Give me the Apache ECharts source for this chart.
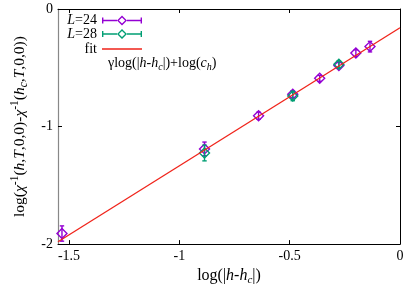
<!DOCTYPE html>
<html>
<head>
<meta charset="utf-8">
<script src="https://cdn.jsdelivr.net/npm/echarts@6/dist/echarts.min.js"></script>
<style>html,body{margin:0;padding:0;background:#fff}#c{width:415px;height:291px}</style>
</head>
<body>
<div id="c"></div>
<script>
// ---- data ----
const l24X = [-1.532, -0.886, -0.641, -0.486, -0.364, -0.277, -0.200, -0.136];
const l24Y = [-1.910, -1.190, -0.908, -0.725, -0.590, -0.480, -0.375, -0.320];
const l24E = [0.065, 0.058, 0.030, 0.030, 0.025, 0.025, 0.028, 0.045];
const l28X = [-0.886, -0.486, -0.277];
const l28Y = [-1.225, -0.740, -0.470];
const l28E = [0.067, 0.040, 0.030];
const fitX = [-1.55, 0];
const fitY = [-1.98, -0.16];
const xTicks = [-1.5, -1, -0.5, 0];
const yTicks = [-2, -1, 0];

const FONT = 'Liberation Serif';
const PURPLE = '#9400d3', GREEN = '#009e73', RED = '#f0231a';

function errRender(params, api) {
  const x = api.value(0), y = api.value(1), e = api.value(2);
  const t = api.coord([x, y + e]), b = api.coord([x, y - e]), c = api.coord([x, y]);
  const color = api.visual('color');
  const cw = 2.2, r = 5;
  const st = {stroke: color, lineWidth: 1.4, fill: 'none'};
  return {type: 'group', children: [
    {type: 'line', shape: {x1: t[0], y1: t[1], x2: b[0], y2: b[1]}, style: st},
    {type: 'line', shape: {x1: t[0] - cw, y1: t[1], x2: t[0] + cw, y2: t[1]}, style: st},
    {type: 'line', shape: {x1: b[0] - cw, y1: b[1], x2: b[0] + cw, y2: b[1]}, style: st},
    {type: 'polygon', shape: {points: [[c[0] - r, c[1]], [c[0], c[1] - r], [c[0] + r, c[1]], [c[0], c[1] + r]]}, style: st}
  ]};
}

const errIcon = 'path://M0 2h1.4v6h-1.4Z M1.4 4.3h13.6v1.4h-13.6Z M15 5L20 0L25 5L20 10Z M16.9 5L20 8.1L23.1 5L20 1.9Z M25 4.3h13.6v1.4h-13.6Z M38.6 2h1.4v6h-1.4Z';
const lineIcon = 'path://M0 0h0.01v0.01h-0.01Z M0 4.3h40v1.4h-40Z M39.99 9.99h0.01v0.01h-0.01Z';

const txt = {fontFamily: FONT, fontSize: 14, color: '#000', fontWeight: 'normal'};
function mkRich(fs, ss, lh) {
  return {
    n: {fontFamily: FONT, fontSize: fs, fontWeight: 'normal', color: '#000', lineHeight: lh, verticalAlign: 'middle'},
    i: {fontFamily: FONT, fontSize: fs, fontWeight: 'normal', fontStyle: 'italic', color: '#000', lineHeight: lh, verticalAlign: 'middle'},
    sup: {fontFamily: FONT, fontSize: ss, fontWeight: 'normal', color: '#000', lineHeight: lh, verticalAlign: 'top'},
    sub: {fontFamily: FONT, fontSize: ss, fontWeight: 'normal', fontStyle: 'italic', color: '#000', lineHeight: lh, verticalAlign: 'bottom'}
  };
}
const richY = mkRich(15.5, 11.5, 21);
const richX = mkRich(16, 11, 20);
const richS = mkRich(14, 10, 18);

function legend(name, fmt, top, icon) {
  return {
    data: [{name: name, icon: icon}], right: 273, top: top, orient: 'vertical', align: 'right',
    itemWidth: 40, itemHeight: 10, padding: 0, selectedMode: false,
    formatter: fmt, textStyle: Object.assign({}, txt, {rich: richS})
  };
}

const chart = echarts.init(document.getElementById('c'), null, {renderer: 'canvas'});
chart.setOption({
  animation: false,
  backgroundColor: '#fff',
  grid: {left: 58, right: 15, top: 9, bottom: 41},
  title: {
    text: '{n|γlog(|}{i|h}{n|-}{i|h}{sub|c}{n||)+log(}{i|c}{sub|h}{n|)}',
    left: 108, top: 54, padding: 0,
    textStyle: Object.assign({}, txt, {rich: richS})
  },
  legend: [
    legend('L=24', '{i|L}{n|=24}', 13.5, errIcon),
    legend('L=28', '{i|L}{n|=28}', 27, errIcon),
    legend('fit', '{n|fit}', 42, lineIcon)
  ],
  xAxis: [{
    type: 'value', min: -1.55, max: 0, position: 'bottom',
    name: '{n|log(|}{i|h}{n|-}{i|h}{sub|c}{n||)}', nameLocation: 'middle', nameGap: 21,
    nameTextStyle: {rich: richX},
    axisLine: {onZero: false, lineStyle: {color: '#000', width: 1}},
    axisTick: {inside: true, length: 4, customValues: xTicks, lineStyle: {color: '#000'}},
    axisLabel: {customValues: xTicks, fontFamily: FONT, fontSize: 14, color: '#000', margin: 5},
    splitLine: {show: false}
  }, {
    type: 'value', min: -1.55, max: 0, position: 'top',
    axisLine: {onZero: false, lineStyle: {color: '#000', width: 1}},
    axisTick: {inside: true, length: 4, customValues: xTicks, lineStyle: {color: '#000'}},
    axisLabel: {show: false}, splitLine: {show: false}
  }],
  yAxis: [{
    type: 'value', min: -2, max: 0, interval: 1, position: 'left',
    name: '{n|log(}{i|χ}{sup|-1}{n|(}{i|h}{n|,}{i|T}{n|,0,0)-}{i|χ}{sup|-1}{n|(}{i|h}{sub|c}{n|,}{i|T}{n|,0,0))}',
    nameLocation: 'middle', nameGap: 20, nameRotate: 90,
    nameTextStyle: {rich: richY},
    axisLine: {onZero: false, show: true, lineStyle: {color: '#888', width: 1.2}},
    axisTick: {show: true, inside: true, length: 4, lineStyle: {color: '#000'}},
    axisLabel: {fontFamily: FONT, fontSize: 14, color: '#000', margin: 5},
    splitLine: {show: false}
  }, {
    type: 'value', min: -2, max: 0, interval: 1, position: 'right',
    axisLine: {onZero: false, show: true, lineStyle: {color: '#000', width: 1}},
    axisTick: {show: true, inside: true, length: 4, lineStyle: {color: '#000'}},
    axisLabel: {show: false}, splitLine: {show: false}
  }],
  series: [{
    name: 'L=24', type: 'custom', renderItem: errRender, itemStyle: {color: PURPLE},
    data: l24X.map((x, i) => [x, l24Y[i], l24E[i]]), z: 2
  }, {
    name: 'L=28', type: 'custom', renderItem: errRender, itemStyle: {color: GREEN},
    data: l28X.map((x, i) => [x, l28Y[i], l28E[i]]), z: 3
  }, {
    name: 'fit', type: 'line', showSymbol: false, symbol: 'none', itemStyle: {color: RED},
    lineStyle: {color: RED, width: 1.3}, data: fitX.map((x, i) => [x, fitY[i]]), z: 4
  }]
});
</script>
</body>
</html>
